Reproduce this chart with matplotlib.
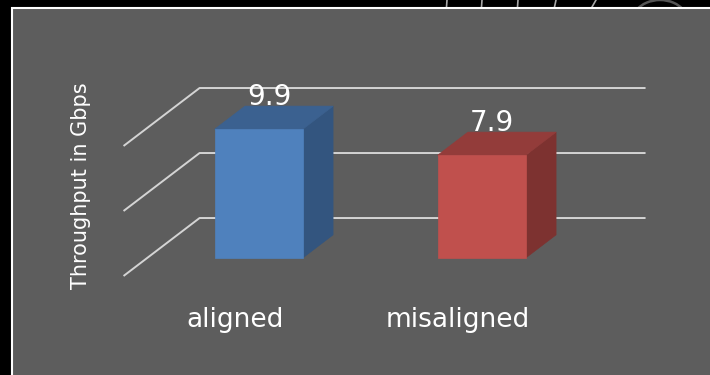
import numpy as np
import matplotlib
matplotlib.use("Agg")
import matplotlib.pyplot as plt
from matplotlib.patches import Polygon, Rectangle, Arc

# --- Data ---
categories = ["aligned", "misaligned"]
values = [9.9, 7.9]
grid_values = [0, 5, 10]
axis_label = "Throughput in Gbps"

# --- Style ---
PANEL = "#5d5d5d"
GRID = "#d4d4d4"
FRONT = ["#4f81bd", "#c0504d"]
TOP = ["#3b6190", "#933c3a"]
SIDE = ["#33557f", "#7d3230"]

# oblique projection: depth 0 = floor front, 1 = back wall
DEPTH = np.array([0.341, 4.46])   # shift (category units, value units) for full depth
BAR_D0, BAR_D1 = 0.31, 0.71
BAR_W = 0.395
X_MIN, X_MAX = -0.5, 1.5


def proj(x, v, d):
    return (x + d * DEPTH[0], v + d * DEPTH[1])


fig = plt.figure(figsize=(7.1, 3.75), dpi=100, facecolor="black")

# faint decoration strokes, only inside the thin black band at the top
band_bottom = (375 - 7) / 375
for x0, x1 in [(447, 446.5), (482, 481.5), (518, 517.5), (556, 554.5), (596, 592)]:
    fig.add_artist(plt.Line2D([x0 / 710, x1 / 710], [1.0, band_bottom],
                              transform=fig.transFigure, color="#a8a8a8",
                              lw=1.2, zorder=0.2))
fig.add_artist(Arc((660 / 710, (375 - 22) / 375), 56 / 710, 44 / 375,
                   theta1=44, theta2=136, transform=fig.transFigure,
                   color="#555555", lw=1.8, zorder=0.2))

# gray panel with white border
fig.add_artist(Rectangle((12 / 710, -0.1), 1.2, (375 - 8) / 375 + 0.1,
                         transform=fig.transFigure, facecolor=PANEL,
                         edgecolor="white", linewidth=1.5, zorder=1))

ax = fig.add_axes([0, 0, 1, 1])
ax.set_zorder(5)
ax.patch.set_visible(False)
ax.set_xlim(-1.054, 2.130)
ax.set_ylim(-7.615, 21.23)
ax.axis("off")

# gridlines on the left wall and back wall
for g in grid_values:
    pts = [proj(X_MIN, g, 0), proj(X_MIN, g, 1), proj(X_MAX, g, 1)]
    ax.plot([p[0] for p in pts], [p[1] for p in pts], color=GRID, lw=1.4,
            solid_capstyle="butt", zorder=1)

# 3D bars
for i, (cat, val) in enumerate(zip(categories, values)):
    xl, xr = i - BAR_W / 2, i + BAR_W / 2
    front = [proj(xl, 0, BAR_D0), proj(xr, 0, BAR_D0),
             proj(xr, val, BAR_D0), proj(xl, val, BAR_D0)]
    side = [proj(xr, 0, BAR_D0), proj(xr, 0, BAR_D1),
            proj(xr, val, BAR_D1), proj(xr, val, BAR_D0)]
    top = [proj(xl, val, BAR_D0), proj(xr, val, BAR_D0),
           proj(xr, val, BAR_D1), proj(xl, val, BAR_D1)]
    for poly, col in [(side, SIDE[i]), (top, TOP[i]), (front, FRONT[i])]:
        ax.add_patch(Polygon(poly, closed=True, facecolor=col, edgecolor=col,
                             lw=0.5, zorder=3))

    # value label above the bar
    lx, ly = proj(i, val, BAR_D1)
    ax.text(proj(i, val, 0.45)[0], ly + 0.1, f"{val}", color="white",
            fontsize=20, ha="center", va="baseline", zorder=4)

    # category label along the floor front edge
    ax.text(i, -3.92, cat, color="white", fontsize=19, ha="center",
            va="baseline", zorder=4)

ax.text(-0.69, 6.92, axis_label, color="white", fontsize=15, rotation=90,
        ha="center", va="center")

fig.savefig("out.png", dpi=100, facecolor=fig.get_facecolor())
